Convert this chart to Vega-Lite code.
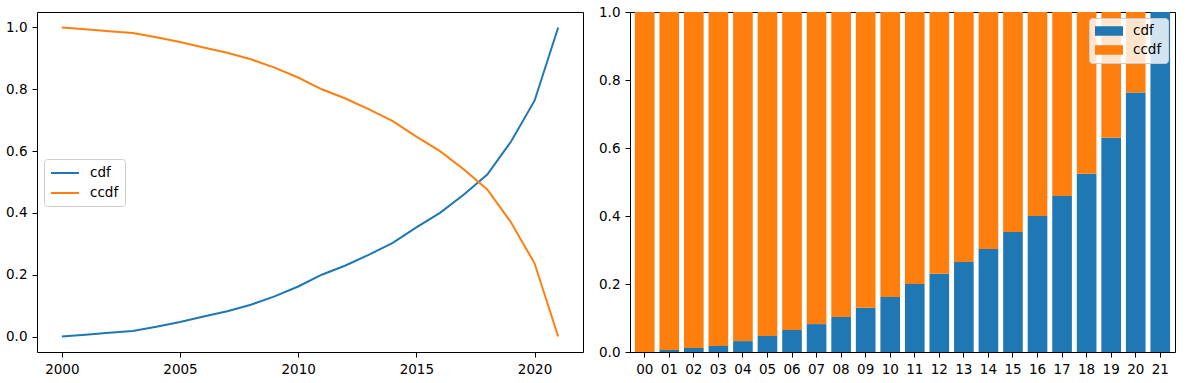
{
  "$schema": "https://vega.github.io/schema/vega-lite/v6.json",
  "padding": {"left": 5, "top": 4, "right": 5, "bottom": 5},
  "bounds": "flush",
  "spacing": 47,
  "datasets": {
    "d": [
      {"year": 2000, "yy": "00", "series": "cdf", "value": 0.0},
      {"year": 2001, "yy": "01", "series": "cdf", "value": 0.006},
      {"year": 2002, "yy": "02", "series": "cdf", "value": 0.012},
      {"year": 2003, "yy": "03", "series": "cdf", "value": 0.018},
      {"year": 2004, "yy": "04", "series": "cdf", "value": 0.032},
      {"year": 2005, "yy": "05", "series": "cdf", "value": 0.047},
      {"year": 2006, "yy": "06", "series": "cdf", "value": 0.065},
      {"year": 2007, "yy": "07", "series": "cdf", "value": 0.082},
      {"year": 2008, "yy": "08", "series": "cdf", "value": 0.103},
      {"year": 2009, "yy": "09", "series": "cdf", "value": 0.13},
      {"year": 2010, "yy": "10", "series": "cdf", "value": 0.162},
      {"year": 2011, "yy": "11", "series": "cdf", "value": 0.2},
      {"year": 2012, "yy": "12", "series": "cdf", "value": 0.23},
      {"year": 2013, "yy": "13", "series": "cdf", "value": 0.265},
      {"year": 2014, "yy": "14", "series": "cdf", "value": 0.303},
      {"year": 2015, "yy": "15", "series": "cdf", "value": 0.353},
      {"year": 2016, "yy": "16", "series": "cdf", "value": 0.4},
      {"year": 2017, "yy": "17", "series": "cdf", "value": 0.459},
      {"year": 2018, "yy": "18", "series": "cdf", "value": 0.524},
      {"year": 2019, "yy": "19", "series": "cdf", "value": 0.63},
      {"year": 2020, "yy": "20", "series": "cdf", "value": 0.763},
      {"year": 2021, "yy": "21", "series": "cdf", "value": 1.0},
      {"year": 2000, "yy": "00", "series": "ccdf", "value": 1.0},
      {"year": 2001, "yy": "01", "series": "ccdf", "value": 0.994},
      {"year": 2002, "yy": "02", "series": "ccdf", "value": 0.988},
      {"year": 2003, "yy": "03", "series": "ccdf", "value": 0.982},
      {"year": 2004, "yy": "04", "series": "ccdf", "value": 0.968},
      {"year": 2005, "yy": "05", "series": "ccdf", "value": 0.953},
      {"year": 2006, "yy": "06", "series": "ccdf", "value": 0.935},
      {"year": 2007, "yy": "07", "series": "ccdf", "value": 0.918},
      {"year": 2008, "yy": "08", "series": "ccdf", "value": 0.897},
      {"year": 2009, "yy": "09", "series": "ccdf", "value": 0.87},
      {"year": 2010, "yy": "10", "series": "ccdf", "value": 0.838},
      {"year": 2011, "yy": "11", "series": "ccdf", "value": 0.8},
      {"year": 2012, "yy": "12", "series": "ccdf", "value": 0.77},
      {"year": 2013, "yy": "13", "series": "ccdf", "value": 0.735},
      {"year": 2014, "yy": "14", "series": "ccdf", "value": 0.697},
      {"year": 2015, "yy": "15", "series": "ccdf", "value": 0.647},
      {"year": 2016, "yy": "16", "series": "ccdf", "value": 0.6},
      {"year": 2017, "yy": "17", "series": "ccdf", "value": 0.541},
      {"year": 2018, "yy": "18", "series": "ccdf", "value": 0.476},
      {"year": 2019, "yy": "19", "series": "ccdf", "value": 0.37},
      {"year": 2020, "yy": "20", "series": "ccdf", "value": 0.237},
      {"year": 2021, "yy": "21", "series": "ccdf", "value": 0.0}
    ]
  },
  "config": {
    "font": "DejaVu Sans",
    "view": {"stroke": "#000", "strokeWidth": 1},
    "axis": {
      "domain": false, "grid": false, "tickColor": "#000", "tickSize": 5, "tickWidth": 1,
      "labelPadding": 5, "labelFontSize": 13.5, "labelColor": "#000", "labelFont": "DejaVu Sans", "title": null
    },
    "legend": {
      "orient": "none", "title": null, "padding": 6,
      "fillColor": "rgba(255,255,255,0.8)", "strokeColor": "#cccccc", "cornerRadius": 3,
      "labelFontSize": 13.5, "labelColor": "#000", "labelFont": "DejaVu Sans", "labelOffset": 24,
      "rowPadding": 5, "symbolSize": 196, "symbolOpacity": 1
    }
  },
  "resolve": {"scale": {"color": "independent"}, "legend": {"color": "independent"}},
  "hconcat": [
    {
      "width": 546, "height": 340,
      "data": {"name": "d"},
      "mark": {"type": "line", "strokeWidth": 2},
      "encoding": {
        "x": {"field": "year", "type": "quantitative",
              "scale": {"domain": [1998.95, 2022.05], "nice": false, "zero": false},
              "axis": {"values": [2000, 2005, 2010, 2015, 2020], "format": "d", "title": null}},
        "y": {"field": "value", "type": "quantitative",
              "scale": {"domain": [-0.05, 1.05], "nice": false},
              "axis": {"values": [0, 0.2, 0.4, 0.6, 0.8, 1.0], "format": ".1f", "title": null}},
        "color": {"field": "series", "type": "nominal",
                  "scale": {"domain": ["cdf", "ccdf"], "range": ["#1f77b4", "#ff7f0e"]},
                  "legend": {"legendX": 7, "legendY": 147, "symbolType": "M-1,0H3", "symbolStrokeWidth": 2}}
      }
    },
    {
      "width": 545, "height": 340,
      "data": {"name": "d"},
      "mark": {"type": "bar"},
      "encoding": {
        "x": {"field": "yy", "type": "ordinal",
              "scale": {"paddingInner": 0.2, "paddingOuter": 0.2},
              "axis": {"labelAngle": 0, "title": null}},
        "y": {"field": "value", "type": "quantitative", "stack": "zero",
              "scale": {"domain": [0, 1], "nice": false},
              "axis": {"values": [0, 0.2, 0.4, 0.6, 0.8, 1.0], "format": ".1f", "title": null}},
        "color": {"field": "series", "type": "nominal",
                  "scale": {"domain": ["cdf", "ccdf"], "range": ["#1f77b4", "#ff7f0e"]},
                  "legend": {"legendX": 459, "legendY": 6, "symbolType": "M-1,-0.68H3V0.68H-1Z", "symbolStrokeWidth": 0}},
        "order": {"field": "series", "sort": "descending"}
      }
    }
  ]
}
